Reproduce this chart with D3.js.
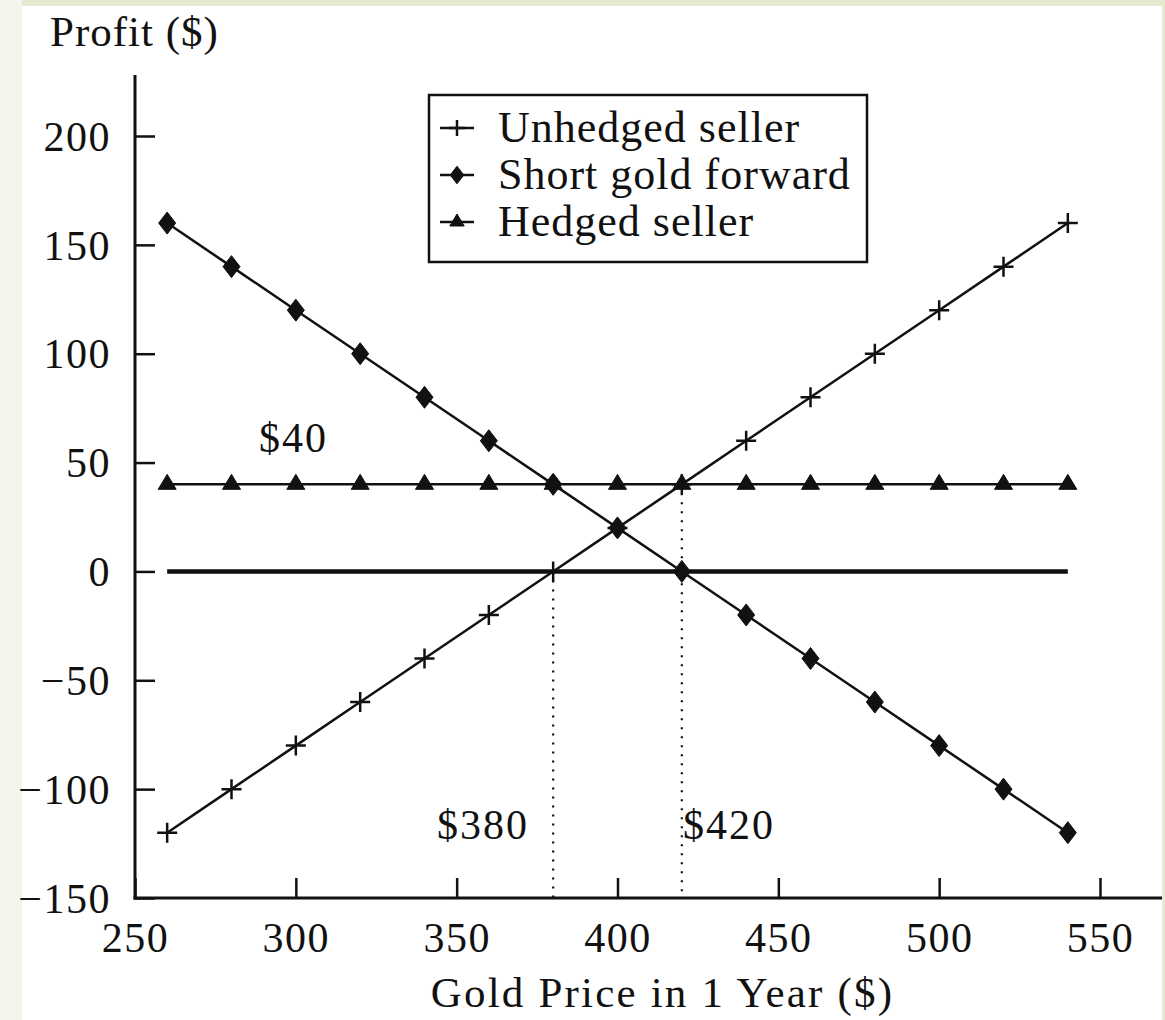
<!DOCTYPE html>
<html>
<head>
<meta charset="utf-8">
<script src="https://cdn.jsdelivr.net/npm/d3@7"></script>
<style>
  html, body { margin: 0; padding: 0; background: #e3eacf; }
  svg { display: block; }
  text { font-family: 'Liberation Serif', 'DejaVu Serif', serif; fill: #111; }
</style>
</head>
<body>
<div id="chart"></div>
<script>
// gold price in 1 year ($)
const prices = [260, 280, 300, 320, 340, 360, 380, 400, 420, 440, 460, 480, 500, 520, 540];
// profits ($)
const unhedged = [-120, -100, -80, -60, -40, -20, 0, 20, 40, 60, 80, 100, 120, 140, 160];
const shortForward = [160, 140, 120, 100, 80, 60, 40, 20, 0, -20, -40, -60, -80, -100, -120];
const hedged = [40, 40, 40, 40, 40, 40, 40, 40, 40, 40, 40, 40, 40, 40, 40];

const xTicks = [250, 300, 350, 400, 450, 500, 550];
const yTicks = [-150, -100, -50, 0, 50, 100, 150, 200];
const legendNames = ['Unhedged seller', 'Short gold forward', 'Hedged seller'];

const W = 1165, H = 1020;
const svg = d3.select('#chart').append('svg').attr('width', W).attr('height', H);

// page framing (white sheet on pale green)
svg.append('rect').attr('x', 0).attr('y', 0).attr('width', 22).attr('height', H).attr('fill', '#f4f6ee');
svg.append('rect').attr('x', 22).attr('y', 6).attr('width', 1140).attr('height', H - 6).attr('fill', '#fff');

const x = d3.scaleLinear().domain([250, 550]).range([135, 1100]);
const y = d3.scaleLinear().domain([-150, 200]).range([898, 136]);

const serif = "'Liberation Serif', 'DejaVu Serif', serif";

// axes
const xAxis = d3.axisBottom(x).tickValues(xTicks).tickSize(-20).tickPadding(28).tickFormat(d3.format('d'));
const yAxis = d3.axisLeft(y).tickValues(yTicks).tickSize(-20).tickPadding(24)
   .tickFormat(d => (d < 0 ? '\u2212' + Math.abs(d) : d));

const xg = svg.append('g').attr('transform', `translate(0,${y(-150)})`).call(xAxis);
const yg = svg.append('g').attr('transform', `translate(${x(250)},0)`).call(yAxis);
xg.select('.domain').remove();
yg.select('.domain').remove();
[xg, yg].forEach(g => {
   g.selectAll('.tick line').attr('stroke', '#111').attr('stroke-width', 2.5);
   g.selectAll('.tick text').style('font-family', serif).style('font-size', '42px')
      .style('letter-spacing', '1.5px').attr('fill', '#111');
});
xg.selectAll('.tick text').attr('dy', '0.71em').attr('y', 24);
yg.selectAll('.tick text').attr('dy', '0.34em').attr('x', -24);

// axis lines
svg.append('line').attr('x1', x(250)).attr('x2', x(250)).attr('y1', 75).attr('y2', y(-150) + 1.5)
   .attr('stroke', '#111').attr('stroke-width', 3);
svg.append('line').attr('x1', x(250) - 1.5).attr('x2', 1162).attr('y1', y(-150)).attr('y2', y(-150))
   .attr('stroke', '#111').attr('stroke-width', 3);

// axis titles
svg.append('text').attr('x', 50).attr('y', 46).style('font-size', '43px').style('letter-spacing', '1px')
   .text('Profit ($)');
svg.append('text').attr('x', (427 + 898) / 2).attr('y', 1007).attr('text-anchor', 'middle')
   .style('font-size', '43px').style('letter-spacing', '2.2px').text('Gold Price in 1 Year ($)');

// zero line
svg.append('line').attr('x1', x(260)).attr('x2', x(540)).attr('y1', y(0)).attr('y2', y(0))
   .attr('stroke', '#111').attr('stroke-width', 4.5);

// dotted guides
svg.append('line').attr('x1', x(380)).attr('x2', x(380)).attr('y1', y(0)).attr('y2', y(-150))
   .attr('stroke', '#111').attr('stroke-width', 2.2).attr('stroke-dasharray', '2,7');
svg.append('line').attr('x1', x(420)).attr('x2', x(420)).attr('y1', y(40)).attr('y2', y(-150))
   .attr('stroke', '#111').attr('stroke-width', 2.2).attr('stroke-dasharray', '2,7');

// annotations
const annot = (tx, ty, label) => svg.append('text').attr('x', tx).attr('y', ty)
   .style('font-size', '42px').style('letter-spacing', '2px').text(label);
annot(259, 452, '$40');
annot(437, 839, '$380');
annot(683, 839, '$420');

const markerPaths = {
   plus: s => `M${-10 * s},0H${10 * s}M0,${-10 * s}V${10 * s}`,
   diamond: s => `M0,${-11 * s}L${8.5 * s},0L0,${11 * s}L${-8.5 * s},0Z`,
   triangle: s => `M0,${-10 * s}L${9 * s},${5 * s}L${-9 * s},${5 * s}Z`,
};

const series = [
   { name: legendNames[0], values: unhedged, marker: 'plus' },
   { name: legendNames[1], values: shortForward, marker: 'diamond' },
   { name: legendNames[2], values: hedged, marker: 'triangle' },
];

const line = d3.line().x(d => x(d[0])).y(d => y(d[1]));

series.forEach(s => {
   const pts = prices.map((p, i) => [p, s.values[i]]);
   svg.append('path').datum(pts).attr('d', line)
      .attr('fill', 'none').attr('stroke', '#111').attr('stroke-width', 2.5);
   svg.append('g').selectAll('path').data(pts).join('path')
      .attr('transform', d => `translate(${x(d[0])},${y(d[1])})`)
      .attr('d', markerPaths[s.marker](1))
      .attr('fill', s.marker === 'plus' ? 'none' : '#111')
      .attr('stroke', '#111')
      .attr('stroke-width', s.marker === 'plus' ? 2.5 : 1);
});

// legend
const lg = svg.append('g');
lg.append('rect').attr('x', 429).attr('y', 95).attr('width', 438).attr('height', 167)
   .attr('fill', '#fff').attr('stroke', '#111').attr('stroke-width', 2.5);
series.forEach((s, i) => {
   const cy = 128 + i * 47;
   lg.append('line').attr('x1', 440).attr('x2', 474).attr('y1', cy).attr('y2', cy)
      .attr('stroke', '#111').attr('stroke-width', 2.5);
   lg.append('path').attr('transform', `translate(457,${cy})`).attr('d', markerPaths[s.marker](0.8))
      .attr('fill', s.marker === 'plus' ? 'none' : '#111').attr('stroke', '#111')
      .attr('stroke-width', s.marker === 'plus' ? 2.5 : 1);
   lg.append('text').attr('x', 498).attr('y', cy + 14).style('font-size', '44px')
      .style('letter-spacing', '1px').text(s.name);
});
</script>
</body>
</html>
